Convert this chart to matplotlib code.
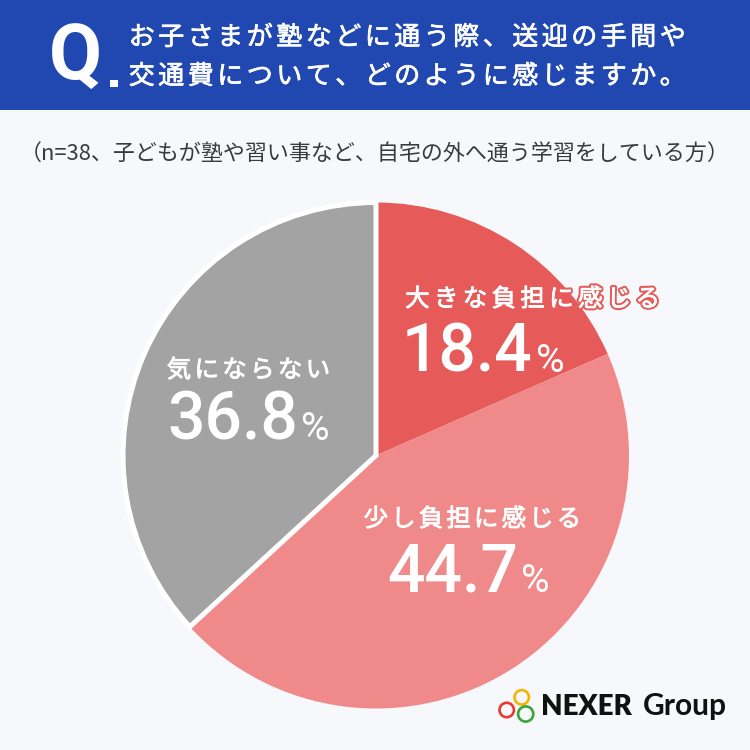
import matplotlib
matplotlib.use('Agg')
import matplotlib.pyplot as plt
from matplotlib.patches import Rectangle, Circle
import matplotlib.patheffects as pe

# ---------------- data ----------------
categories = ['大きな負担に感じる', '少し負担に感じる', '気にならない']
values = [18.4, 44.7, 36.8]
slice_colors = ['#e65a5a', '#f08a8a', '#a3a3a3']
title_lines = ['お子さまが塾などに通う際、送迎の手間や', '交通費について、どのように感じますか。']
subtitle = '（n=38、子どもが塾や習い事など、自宅の外へ通う学習をしている方）'
logo_words = ['NEXER', 'Group']

# ---------------- style / layout ----------------
W = H = 750
BG = '#f7f8fc'
BLUE = '#2148b1'
JP = ['Noto Sans CJK JP', 'DejaVu Sans']

fig = plt.figure(figsize=(7.5, 7.5), dpi=100, facecolor=BG)
ax = fig.add_axes([0, 0, 1, 1])
ax.set_facecolor(BG)


def Y(py):
    return H - py


# pie (center/radius in pixel units)
cx, cy, R = 376, 455.5, 253
wedges, _ = ax.pie(values, colors=slice_colors, startangle=90, counterclock=False,
                   center=(cx, Y(cy)), radius=R, frame=True,
                   wedgeprops=dict(linewidth=0))
# white separator only around the gray slice
wedges[2].set_edgecolor('white')
wedges[2].set_linewidth(3.6)

ax.set_xlim(0, W)
ax.set_ylim(0, H)
ax.set_aspect('equal')
ax.axis('off')

# header band
ax.add_patch(Rectangle((0, Y(110)), W, 110, facecolor=BLUE, edgecolor='none', zorder=0.5))


def spaced(x_left, yc, s, em_px, pitch, color, effects=None, z=5):
    size_pt = em_px * 72 / 100
    base = yc + 0.38 * em_px
    for i, ch in enumerate(s):
        x = x_left + (i + 0.5) * pitch
        t = ax.text(x, Y(base), ch, ha='center', va='baseline', fontsize=size_pt,
                    family=JP, color=color, zorder=z)
        if effects:
            t.set_path_effects(effects)


# Q mark
ax.text(49, Y(80), 'Q', ha='left', va='baseline', fontsize=77 * 0.72,
        family='Roboto', fontweight='bold', color='white', zorder=5)
ax.add_patch(Rectangle((110, Y(87)), 8, 7, facecolor='white', edgecolor='none', zorder=5))

# question lines
hdr_fx = [pe.withStroke(linewidth=0.5, foreground='white')]
spaced(127, 35, title_lines[0], 26, 29.5, 'white', effects=hdr_fx)
spaced(127, 74, title_lines[1], 26, 29.5, 'white', effects=hdr_fx)

# subtitle
ax.text(375, Y(155), subtitle, ha='center', va='center', fontsize=15.8,
        family=JP, color='#3a3a3a', zorder=5)

renderer = fig.canvas.get_renderer()


def number(x_left, baseline, val, digit_em=66, pct_em=39):
    t = ax.text(x_left, Y(baseline), f'{val:.1f}', ha='left', va='baseline',
                fontsize=digit_em * 0.72, family='Roboto', fontweight='medium',
                color='white', zorder=5)
    bb = t.get_window_extent(renderer=renderer)
    ax.text(bb.x1 + 3, Y(baseline), '%', ha='left', va='baseline',
            fontsize=pct_em * 0.72, family='Roboto', fontweight='normal',
            color='white', zorder=5)


# labels: (label_left, label_center_y, pitch, num_left, num_baseline)
label_pos = [
    (403, 297, 28.8, 402, 372),
    (362, 517, 27.6, 387, 592),
    (165, 368, 27.8, 167, 440),
]
for i, (cat, val) in enumerate(zip(categories, values)):
    lx, ly, pitch, nx, nb = label_pos[i]
    fx = [pe.withStroke(linewidth=0.6, foreground='white')]
    if i == 0:
        fx = [pe.withStroke(linewidth=3.5, foreground=slice_colors[0])] + fx
    spaced(lx, ly, cat, 24.5, pitch, 'white', effects=fx)
    number(nx, nb, val)

# logo rings
for (x, y, r, c) in [(521.7, 697.3, 7.2, '#f4b400'), (506.7, 710, 7.2, '#e53b30'),
                     (525.7, 714, 7.6, '#3aa53c')]:
    ax.add_patch(Circle((x, Y(y)), r, fill=False, edgecolor=c, linewidth=1.9, zorder=5))

ax.text(541, Y(715), logo_words[0], ha='left', va='baseline', fontsize=20,
        family='Lato', fontweight='heavy', color='#111111', zorder=5)
ax.text(643, Y(715), logo_words[1], ha='left', va='baseline', fontsize=21.5,
        family='Lato', fontweight='bold', color='#111111', zorder=5)

fig.savefig('out.png', dpi=100, facecolor=BG)
